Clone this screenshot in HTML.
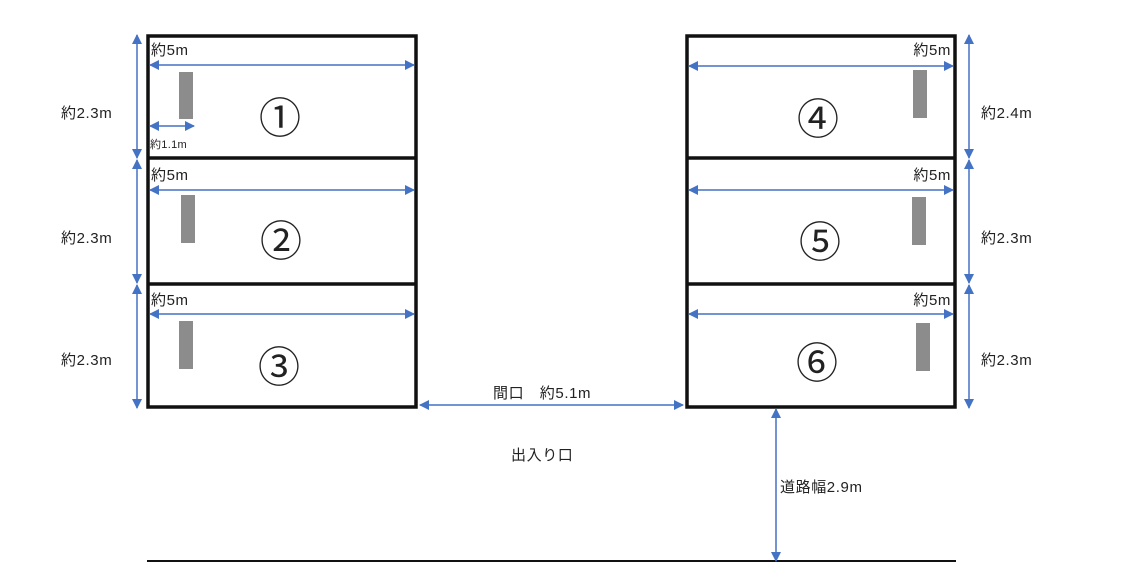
<!DOCTYPE html>
<html><head><meta charset="utf-8"><style>
html,body{margin:0;padding:0;background:#fff;width:1145px;height:585px;overflow:hidden}
svg{display:block}
text{font-family:"Liberation Sans","Noto Sans CJK JP",sans-serif;fill:#222}
.l{font-size:15px;letter-spacing:0.6px}
.c{font-size:42px;fill:#111}
</style></head><body>
<svg width="1145" height="585" viewBox="0 0 1145 585" xmlns="http://www.w3.org/2000/svg">
<defs>
<marker id="a" viewBox="0 0 10 10" refX="9" refY="5" markerWidth="10" markerHeight="10" markerUnits="userSpaceOnUse" orient="auto-start-reverse"><path d="M0,0 L10,5 L0,10 z" fill="#4472c4"/></marker>
</defs>
<g stroke="#111" stroke-width="3.5" fill="none">
<rect x="148" y="36" width="268" height="371"/>
<line x1="148" y1="158" x2="416" y2="158"/>
<line x1="148" y1="284" x2="416" y2="284"/>
<rect x="687" y="36" width="268" height="371"/>
<line x1="687" y1="158" x2="955" y2="158"/>
<line x1="687" y1="284" x2="955" y2="284"/>
</g>
<line x1="147" y1="561" x2="956" y2="561" stroke="#111" stroke-width="2"/>
<g stroke="#4472c4" stroke-width="1.5" marker-start="url(#a)" marker-end="url(#a)">
<line x1="150" y1="65" x2="414" y2="65"/>
<line x1="150" y1="190" x2="414" y2="190"/>
<line x1="150" y1="314" x2="414" y2="314"/>
<line x1="150" y1="126" x2="194" y2="126"/>
<line x1="689" y1="66" x2="953" y2="66"/>
<line x1="689" y1="190" x2="953" y2="190"/>
<line x1="689" y1="314" x2="953" y2="314"/>
<line x1="137" y1="35" x2="137" y2="158"/>
<line x1="137" y1="160" x2="137" y2="283"/>
<line x1="137" y1="285" x2="137" y2="408"/>
<line x1="969" y1="35" x2="969" y2="158"/>
<line x1="969" y1="160" x2="969" y2="283"/>
<line x1="969" y1="285" x2="969" y2="408"/>
<line x1="420" y1="405" x2="683" y2="405"/>
<line x1="776" y1="409" x2="776" y2="561"/>
</g>
<g fill="#8c8c8c">
<rect x="179" y="72" width="14" height="47"/>
<rect x="181" y="195" width="14" height="48"/>
<rect x="179" y="321" width="14" height="48"/>
<rect x="913" y="70" width="14" height="48"/>
<rect x="912" y="197" width="14" height="48"/>
<rect x="916" y="323" width="14" height="48"/>
</g>
<g class="l">
<text x="151" y="55">約5m</text>
<text x="151" y="180">約5m</text>
<text x="151" y="305">約5m</text>
<text x="150" y="148" style="font-size:11px;letter-spacing:0.3px">約1.1m</text>
<text x="951" y="55" text-anchor="end">約5m</text>
<text x="951" y="180" text-anchor="end">約5m</text>
<text x="951" y="305" text-anchor="end">約5m</text>
<text x="61" y="118">約2.3m</text>
<text x="61" y="243">約2.3m</text>
<text x="61" y="365">約2.3m</text>
<text x="981" y="118">約2.4m</text>
<text x="981" y="243">約2.3m</text>
<text x="981" y="365">約2.3m</text>
<text x="493" y="398">間口　約5.1m</text>
<text x="511" y="460">出入り口</text>
<text x="780" y="492">道路幅2.9m</text>
</g>
<g class="c" text-anchor="middle">
<text x="280" y="133">①</text>
<text x="281" y="256">②</text>
<text x="279" y="382">③</text>
<text x="818" y="134">④</text>
<text x="820" y="257">⑤</text>
<text x="817" y="378">⑥</text>
</g>
</svg>
</body></html>
